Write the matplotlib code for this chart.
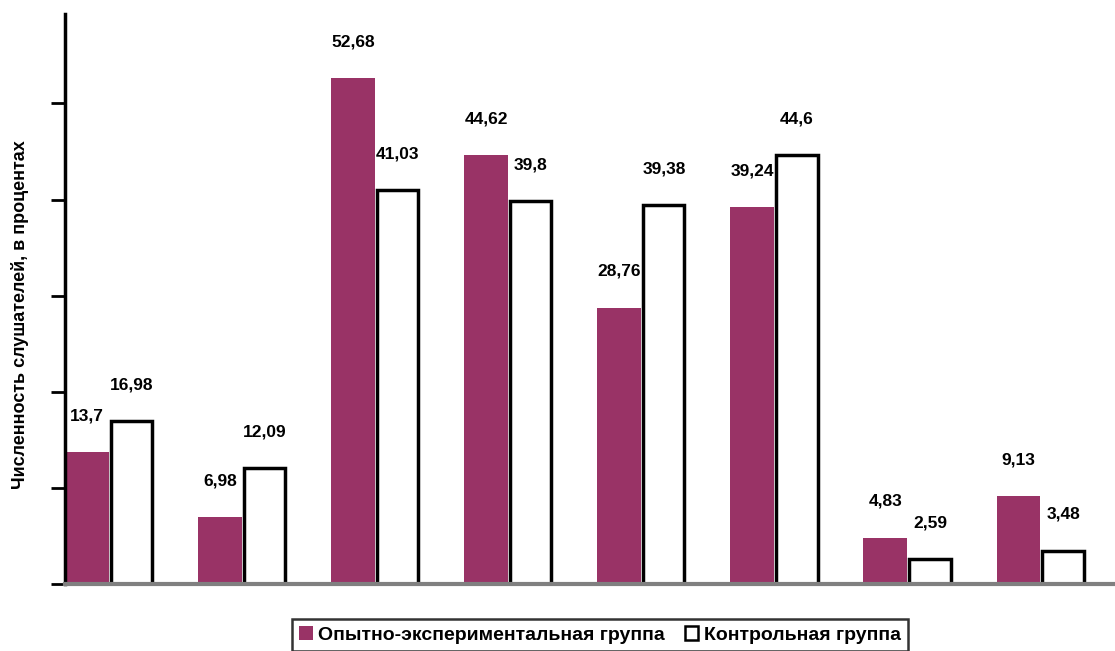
import numpy as np
import matplotlib.pyplot as plt

plt.rcParams['font.family'] = ['Liberation Sans', 'DejaVu Sans']

# Data
groups = np.arange(8)
exp_group = [13.7, 6.98, 52.68, 44.62, 28.76, 39.24, 4.83, 9.13]
ctrl_group = [16.98, 12.09, 41.03, 39.8, 39.38, 44.6, 2.59, 3.48]
exp_labels = ['13,7', '6,98', '52,68', '44,62', '28,76', '39,24', '4,83', '9,13']
ctrl_labels = ['16,98', '12,09', '41,03', '39,8', '39,38', '44,6', '2,59', '3,48']

purple = '#993366'
width = 0.33

fig = plt.figure(figsize=(11.15, 6.51), dpi=100)
ax = fig.add_axes([65 / 1115, (651 - 584) / 651, 1 - 65 / 1115, (584 - 14) / 651])

b1 = ax.bar(groups - width / 2, exp_group, width, color=purple, edgecolor='none',
            label='Опытно-экспериментальная группа')
b2 = ax.bar(groups + width / 2 + 0.005, ctrl_group, width - 0.02, color='white',
            edgecolor='black', linewidth=2.5, label='Контрольная группа')

# value labels above the bars
for bars, labels in [(b1, exp_labels), (b2, ctrl_labels)]:
    for rect, lab in zip(bars, labels):
        ax.annotate(lab, (rect.get_x() + rect.get_width() / 2, rect.get_height()),
                    xytext=(0, 26), textcoords='offset points', ha='center', va='center',
                    fontsize=12.5, fontweight='bold')

ax.set_xlim(-width, 7.56)
ax.set_ylim(0, 59.3)
ax.set_yticks([0, 10, 20, 30, 40, 50])
ax.set_yticklabels([])
ax.set_xticks([])
ax.tick_params(axis='y', direction='out', length=10, width=2, color='black')

ax.spines['top'].set_visible(False)
ax.spines['right'].set_visible(False)
ax.spines['left'].set_linewidth(2.5)
ax.spines['bottom'].set_color('#808080')
ax.spines['bottom'].set_linewidth(3)

fig.text(20 / 1115, 1 - 315 / 651, 'Численность слушателей, в процентах', rotation=90,
         ha='center', va='center', fontsize=13, fontweight='bold')

leg = fig.legend(handles=[b1, b2], loc='center', bbox_to_anchor=(600 / 1115, 1 - 635 / 651),
                 ncol=2, frameon=True, fancybox=False,
                 prop={'weight': 'bold', 'size': 14}, handlelength=0.7, handleheight=0.7,
                 handletextpad=0.3, columnspacing=1.0, borderpad=0.35, borderaxespad=0)
leg.get_frame().set_edgecolor('black')
leg.get_frame().set_linewidth(1.8)
for h in leg.legend_handles:
    h.set_linewidth(1.8)

fig.savefig('out.png', dpi=100)
